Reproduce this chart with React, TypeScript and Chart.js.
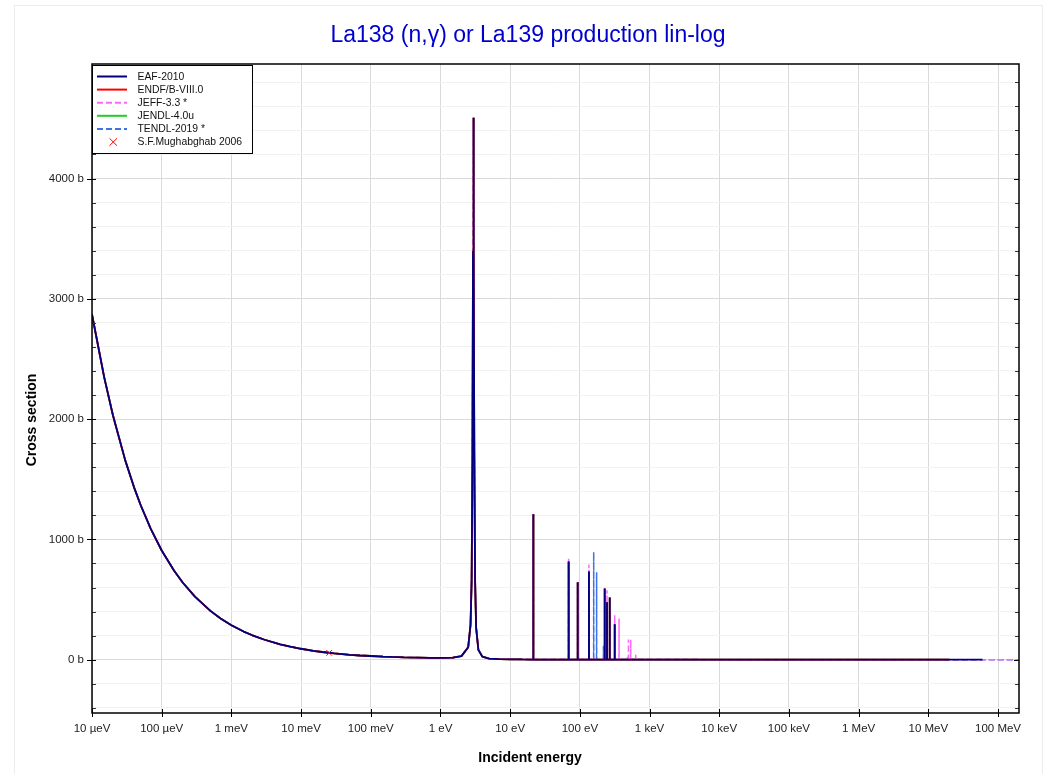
import React, { useEffect, useRef } from 'react';
import { Chart, registerables } from 'chart.js';

Chart.register(...registerables);

const FONT = '"Liberation Sans", Arial, Helvetica, sans-serif';

const titleText = 'La138 (n,γ) or La139 production lin-log';
const xAxisTitle = 'Incident energy';
const yAxisTitle = 'Cross section';

const xTickValues = [1e-5, 1e-4, 1e-3, 1e-2, 1e-1, 1, 10, 100, 1e3, 1e4, 1e5, 1e6, 1e7, 1e8];
const xTickLabels = ['10 µeV', '100 µeV', '1 meV', '10 meV', '100 meV', '1 eV', '10 eV', '100 eV', '1 keV', '10 keV', '100 keV', '1 MeV', '10 MeV', '100 MeV'];
const yMajorTicks = [0, 1000, 2000, 3000, 4000];
const yMajorLabels = ['0 b', '1000 b', '2000 b', '3000 b', '4000 b'];
const yMinorTicks = [-400, -200, 200, 400, 600, 800, 1200, 1400, 1600, 1800, 2200, 2400, 2600, 2800, 3200, 3400, 3600, 3800, 4200, 4400, 4600, 4800];

// thermal (1/v) region and the ~3 eV resonance, shared by all libraries
const thermalE = [1e-5, 1.5e-5, 2e-5, 3e-5, 4e-5, 5e-5, 7e-5, 1e-4, 1.5e-4, 2e-4, 3e-4, 5e-4, 7e-4, 1e-3, 1.5e-3, 2e-3, 3e-3, 5e-3, 7e-3, 1e-2, 1.5e-2, 2e-2, 3e-2, 5e-2, 7e-2, 0.1, 0.15, 0.2, 0.3, 0.5, 0.7, 1, 1.5, 2, 2.5, 2.7, 2.8, 2.88, 2.93, 2.97, 3.01, 3.06, 3.14, 3.25, 3.5, 4, 5, 7, 10, 15];
const thermalXS = [2870, 2345, 2030, 1657, 1435, 1284, 1085, 908, 741, 642, 524, 406, 343, 287, 234, 203, 166, 128, 108, 91, 74, 64, 52, 41, 35, 31, 26, 23, 20, 17, 15, 15, 17, 30, 104, 289, 657, 1704, 3396, 4505, 3396, 1704, 657, 265, 82, 25, 9, 5, 3.4, 2.3];

const resonanceBackground = 1.5;

const eafPeakE = [21.5, 69, 93, 135, 227, 245, 268, 316];
const eafPeakXS = [1210, 817, 644, 733, 592, 478, 517, 294];

const jeffPeakE = [21.5, 69, 93, 135, 227, 245, 268, 316, 365, 498, 537, 634];
const jeffPeakXS = [1210, 839, 644, 792, 592, 578, 517, 369, 342, 167, 167, 42];

const tendlPeakE = [21.5, 69, 93, 158, 174, 218, 480, 560, 700];
const tendlPeakXS = [1210, 817, 644, 894, 728, 117, 18, 15, 12];

const highE = [1e3, 1e4, 1e5, 1e6, 1e7, 2e7, 6e7, 2e8];
const highXS = [1.2, 0.5, 0.2, 0.08, 0.01, 0.005, 0.002, 0.001];

const eafEnd = 6e7;
const endfEnd = 2e7;
const jendlEnd = 2e7;
const jeffEnd = 2e8;
const tendlEnd = 2e8;

const mughabghabE = [0.0253];
const mughabghabXS = [57];

function buildSeries(peakE: number[], peakXS: number[], endE: number) {
  const pts: { x: number; y: number }[] = thermalE.map((e, i) => ({ x: e, y: thermalXS[i] }));
  const idx = peakE.map((_, i) => i).sort((a, b) => peakE[a] - peakE[b]);
  idx.forEach((i) => {
    const e = peakE[i];
    pts.push({ x: e * 0.997, y: resonanceBackground });
    pts.push({ x: e, y: peakXS[i] });
    pts.push({ x: e * 1.003, y: resonanceBackground });
  });
  highE.forEach((e, i) => {
    if (e <= endE) pts.push({ x: e, y: highXS[i] });
  });
  return pts;
}

const lineBase = { pointRadius: 0, borderWidth: 1.8, fill: false, tension: 0, borderJoinStyle: 'bevel' as const };

const legendItems = [
  { label: 'EAF-2010', color: '#000080', dash: [] as number[], marker: false },
  { label: 'ENDF/B-VIII.0', color: '#ff0000', dash: [] as number[], marker: false },
  { label: 'JEFF-3.3 *', color: '#ff66ff', dash: [6, 3], marker: false },
  { label: 'JENDL-4.0u', color: '#22cc22', dash: [] as number[], marker: false },
  { label: 'TENDL-2019 *', color: '#3f72e6', dash: [6, 3], marker: false },
  { label: 'S.F.Mughabghab 2006', color: '#ff0000', dash: [] as number[], marker: true },
];

const decorPlugin = {
  id: 'decor',
  beforeDraw(chart: any) {
    const ctx = chart.ctx;
    ctx.save();
    ctx.strokeStyle = '#ececec';
    ctx.lineWidth = 1;
    ctx.strokeRect(14.5, 5.5, 1028, 800);
    ctx.restore();
  },
  afterDraw(chart: any) {
    const ctx = chart.ctx;
    const { left, right, top, bottom } = chart.chartArea;
    const xs = chart.scales.x;
    const ys = chart.scales.y;
    ctx.save();
    ctx.strokeStyle = '#000';
    ctx.lineWidth = 1;
    const seg = (x1: number, y1: number, x2: number, y2: number) => {
      ctx.beginPath();
      ctx.moveTo(x1, y1);
      ctx.lineTo(x2, y2);
      ctx.stroke();
    };
    xTickValues.forEach((v) => {
      const px = Math.round(xs.getPixelForValue(v)) + 0.5;
      seg(px, bottom - 4, px, bottom + 4);
    });
    ctx.strokeStyle = '#333';
    yMinorTicks.forEach((v) => {
      const py = Math.round(ys.getPixelForValue(v)) + 0.5;
      seg(left, py, left + 4, py);
      seg(right - 4, py, right, py);
    });
    ctx.strokeStyle = '#000';
    yMajorTicks.forEach((v) => {
      const py = Math.round(ys.getPixelForValue(v)) + 0.5;
      seg(left - 5, py, left + 4, py);
      seg(right - 5, py, right, py);
    });
    ctx.lineWidth = 1.5;
    ctx.strokeStyle = '#000';
    ctx.strokeRect(left, top, right - left, bottom - top);

    // legend
    const lx = 92.5, ly = 65.5, lw = 160, lh = 88;
    ctx.fillStyle = '#fff';
    ctx.fillRect(lx, ly, lw, lh);
    ctx.lineWidth = 1;
    ctx.strokeStyle = '#000';
    ctx.strokeRect(lx, ly, lw, lh);
    ctx.font = `10.4px ${FONT}`;
    ctx.textBaseline = 'middle';
    ctx.textAlign = 'left';
    legendItems.forEach((it, i) => {
      const y = 76.5 + i * 13.1;
      ctx.strokeStyle = it.color;
      if (it.marker) {
        ctx.lineWidth = 1;
        ctx.setLineDash([]);
        seg(109.5, y - 3.7, 117, y + 3.7);
        seg(109.5, y + 3.7, 117, y - 3.7);
      } else {
        ctx.lineWidth = 2;
        ctx.setLineDash(it.dash);
        seg(97, y, 127, y);
        ctx.setLineDash([]);
      }
      ctx.fillStyle = '#111';
      ctx.fillText(it.label, 137.5, y + 0.5);
    });

    // title
    ctx.fillStyle = '#0000cc';
    ctx.font = `23px ${FONT}`;
    ctx.textAlign = 'center';
    ctx.textBaseline = 'alphabetic';
    ctx.fillText(titleText, 528, 42);

    // axis titles
    ctx.fillStyle = '#000';
    ctx.font = `bold 14px ${FONT}`;
    ctx.textBaseline = 'middle';
    ctx.fillText(xAxisTitle, 530, 758);
    ctx.translate(32, 420);
    ctx.rotate(-Math.PI / 2);
    ctx.fillText(yAxisTitle, 0, 0);
    ctx.restore();
  },
};

export default function App() {
  const ref = useRef<HTMLCanvasElement>(null);
  useEffect(() => {
    document.body.style.margin = '0';
    const datasets: any[] = [
      { ...lineBase, label: 'EAF-2010', data: buildSeries(eafPeakE, eafPeakXS, eafEnd), borderColor: '#000080' },
      { ...lineBase, label: 'ENDF/B-VIII.0', data: buildSeries(eafPeakE, eafPeakXS, endfEnd), borderColor: '#ff0000' },
      { ...lineBase, borderWidth: 1.5, label: 'JEFF-3.3 *', data: buildSeries(jeffPeakE, jeffPeakXS, jeffEnd), borderColor: '#ff66ff', borderDash: [6, 3] },
      { ...lineBase, label: 'JENDL-4.0u', data: buildSeries(eafPeakE, eafPeakXS, jendlEnd), borderColor: '#22cc22' },
      { ...lineBase, borderWidth: 1.5, label: 'TENDL-2019 *', data: buildSeries(tendlPeakE, tendlPeakXS, tendlEnd), borderColor: '#3f72e6', borderDash: [6, 3] },
      {
        label: 'S.F.Mughabghab 2006',
        data: mughabghabE.map((e, i) => ({ x: e, y: mughabghabXS[i] })),
        showLine: false,
        pointStyle: 'crossRot',
        pointRadius: 4,
        borderColor: '#ff0000',
        backgroundColor: '#ff0000',
        borderWidth: 1,
        order: -1,
      },
    ];
    const chart = new Chart(ref.current as HTMLCanvasElement, {
      type: 'line',
      data: { datasets },
      options: {
        responsive: false,
        animation: false,
        devicePixelRatio: 1,
        layout: { padding: { left: 0, top: 64, right: 44, bottom: 0 } },
        plugins: { legend: { display: false }, title: { display: false }, tooltip: { enabled: false } },
        scales: {
          x: {
            type: 'logarithmic',
            min: 1e-5,
            max: 2e8,
            afterBuildTicks: (s: any) => {
              s.ticks = xTickValues.map((v) => ({ value: v }));
            },
            afterFit: (s: any) => {
              s.height = 61;
            },
            ticks: {
              autoSkip: false,
              maxRotation: 0,
              minRotation: 0,
              padding: 9,
              color: '#222',
              font: { family: FONT, size: 11.5 },
              callback: (_v: any, i: number) => xTickLabels[i],
            },
            grid: { color: '#dadada', drawTicks: false },
            border: { display: false },
          },
          y: {
            type: 'linear',
            min: -443,
            max: 4952,
            afterBuildTicks: (s: any) => {
              s.ticks = [...yMinorTicks, ...yMajorTicks].sort((a, b) => a - b).map((v) => ({ value: v }));
            },
            afterFit: (s: any) => {
              s.width = 92;
            },
            ticks: {
              autoSkip: false,
              padding: 8,
              color: '#222',
              font: { family: FONT, size: 11.5 },
              callback: (v: any) => {
                const k = yMajorTicks.indexOf(Number(v));
                return k >= 0 ? yMajorLabels[k] : '';
              },
            },
            grid: {
              drawTicks: false,
              color: (c: any) => (c.tick && yMajorTicks.includes(c.tick.value) ? '#dadada' : '#f1f1f1'),
            },
            border: { display: false },
          },
        },
      } as any,
      plugins: [decorPlugin],
    });
    return () => chart.destroy();
  }, []);
  return <canvas ref={ref} width={1063} height={774} style={{ display: 'block' }} />;
}
